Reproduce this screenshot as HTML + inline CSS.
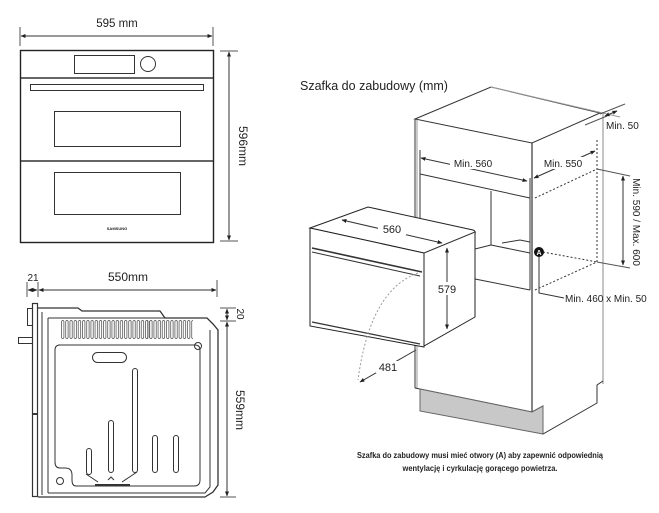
<!DOCTYPE html>
<html><head><meta charset="utf-8"><style>
html,body{margin:0;padding:0;background:#fff;}
svg{display:block;font-family:"Liberation Sans",sans-serif;}
</style></head><body>
<svg width="659" height="513" viewBox="0 0 659 513" xmlns="http://www.w3.org/2000/svg">
<defs>
<marker id="ar" viewBox="0 0 10 10" refX="9" refY="5" markerWidth="5" markerHeight="5" orient="auto-start-reverse"><path d="M0,1 L10,5 L0,9 z" fill="#222"/></marker>
<pattern id="vent" x="61" y="0" width="4.2" height="20" patternUnits="userSpaceOnUse"><rect x="0.5" y="0.5" width="2.4" height="18" rx="1.2" fill="none" stroke="#444" stroke-width="0.7"/></pattern>
</defs>
<g fill="none" stroke="#333" stroke-width="1">
<line x1="20" y1="27" x2="20" y2="46" stroke="#555"/>
<line x1="213" y1="27" x2="213" y2="46" stroke="#555"/>
<line x1="21" y1="36" x2="212" y2="36" marker-start="url(#ar)" marker-end="url(#ar)"/>
<rect x="20.5" y="50.5" width="193" height="192" stroke="#222" stroke-width="1.4"/>
<rect x="74.5" y="55.5" width="60" height="18"/>
<circle cx="148" cy="64" r="7.5"/>
<line x1="21" y1="78" x2="213" y2="78" stroke-width="1.6"/>
<rect x="30.5" y="84.5" width="173" height="6"/>
<rect x="54.5" y="111.5" width="126" height="35"/>
<line x1="21" y1="161" x2="213" y2="161" stroke-width="1.4"/>
<rect x="54.5" y="172.5" width="126" height="42"/>
<line x1="220" y1="51" x2="238" y2="51" stroke="#555"/>
<line x1="220" y1="241" x2="238" y2="241" stroke="#555"/>
<line x1="229" y1="52" x2="229" y2="240" marker-start="url(#ar)" marker-end="url(#ar)"/>

<line x1="27" y1="282" x2="27" y2="297" stroke="#555"/>
<line x1="38" y1="282" x2="38" y2="297" stroke="#555"/>
<line x1="217" y1="280" x2="217" y2="297" stroke="#555"/>
<line x1="28" y1="290" x2="37" y2="290" marker-start="url(#ar)" marker-end="url(#ar)"/>
<line x1="39" y1="290" x2="216" y2="290" marker-start="url(#ar)" marker-end="url(#ar)"/>
<rect x="32.5" y="303.5" width="5" height="193" stroke-width="1.2"/>
<rect x="27.5" y="308.5" width="5" height="17"/>
<rect x="18.5" y="337.5" width="14" height="6"/>
<line x1="32" y1="414" x2="38" y2="414" stroke-width="2"/>
<path d="M38,308 L78,308 L82,311 L160,311 L165,318 L207,318 L213,324 L218,330 L218,485 L213,492 L205,497 L38,497" stroke-width="1.3"/>
<path d="M42,312 L42,495 M48,318 L48,493 M48,318 L205,318 M210,330 L210,487 L205,493 L48,493"/>
<path d="M58,345 L195,345 Q200,345 200,350 L200,480 Q200,486 194,486 L76,486 Q72,486 72,480 L72,475 Q72,468 65,468 L60,468 Q55,468 55,462 L55,350 Q55,345 60,345 Z"/>
<rect x="61" y="319" width="89" height="20" fill="url(#vent)" stroke="none"/>
<rect x="147" y="319" width="46" height="20" fill="url(#vent)" stroke="none"/>
<circle cx="198" cy="346" r="3.5"/>
<circle cx="60" cy="481" r="3.5"/>
<rect x="92.5" y="352.5" width="34" height="10" rx="5"/>
<rect x="86.5" y="448.5" width="5" height="26" rx="2.5"/>
<rect x="108.5" y="420.5" width="5" height="52" rx="2.5"/>
<rect x="132.5" y="368.5" width="5" height="104" rx="2.5"/>
<rect x="152.5" y="435.5" width="5" height="37" rx="2.5"/>
<rect x="173.5" y="435.5" width="5" height="37" rx="2.5"/>
<path d="M86,474 L98,482 M137,472 L122,482 M108,480 L111,477 L114,480"/>
<line x1="95" y1="485" x2="130" y2="485" stroke-width="2"/>
<line x1="220" y1="308" x2="236" y2="308" stroke="#555"/>
<line x1="220" y1="321" x2="236" y2="321" stroke="#555"/>
<line x1="220" y1="497" x2="236" y2="497" stroke="#555"/>
<line x1="227" y1="309" x2="227" y2="320" marker-start="url(#ar)" marker-end="url(#ar)"/>
<line x1="227" y1="322" x2="227" y2="496" marker-start="url(#ar)" marker-end="url(#ar)"/>

<path d="M415,119 L491,87 L600,113 L532,143 Z" stroke-width="1"/>
<line x1="491" y1="87" x2="620" y2="117" stroke="#999"/>
<line x1="415" y1="119" x2="415" y2="228"/>
<line x1="417" y1="120" x2="417" y2="228" stroke="#999"/>
<line x1="415" y1="345" x2="415" y2="388"/>
<line x1="417" y1="345" x2="417" y2="388" stroke="#999"/>
<line x1="532" y1="143" x2="532" y2="412" stroke-width="1.2"/>
<line x1="603" y1="112" x2="603" y2="384" stroke="#aaa" stroke-width="1.4"/>
<line x1="597" y1="140" x2="597" y2="262" stroke-dasharray="2,2"/>
<path d="M415,388 L532,412 L543,406 L543,434 L597,403 L597,385 L603,381" />
<path d="M420,389 L532,412 L543,406 L543,434 L420,411 Z" fill="#c8c8c8" stroke="#666"/>
<line x1="420" y1="150" x2="420" y2="228"/>
<line x1="420" y1="174" x2="530" y2="198"/>
<line x1="530" y1="178" x2="530" y2="290"/>
<line x1="491" y1="191" x2="491" y2="245"/>
<line x1="475" y1="249" x2="491" y2="245"/>
<line x1="491" y1="245" x2="530" y2="253"/>
<path d="M502,243 L520,240 L530,242"/>
<line x1="475" y1="279" x2="530" y2="290"/>
<line x1="421" y1="158" x2="527" y2="181" marker-start="url(#ar)" marker-end="url(#ar)"/>
<line x1="535" y1="198" x2="597" y2="169" stroke-dasharray="2,2"/>
<line x1="535" y1="290" x2="597" y2="262" stroke-dasharray="2,2"/>
<line x1="543" y1="252" x2="597" y2="262" stroke-dasharray="2,2"/>
<line x1="534" y1="178" x2="595" y2="151" marker-start="url(#ar)" marker-end="url(#ar)"/>
<line x1="597" y1="169" x2="630" y2="176" stroke="#555"/>
<line x1="597" y1="262" x2="630" y2="268" stroke="#555"/>
<line x1="623" y1="176" x2="623" y2="265" marker-start="url(#ar)" marker-end="url(#ar)"/>
<line x1="585" y1="125" x2="607" y2="116" stroke="#555"/>
<line x1="600" y1="114" x2="625" y2="104" stroke="#555"/>
<line x1="605" y1="116" x2="617" y2="111" marker-start="url(#ar)" marker-end="url(#ar)"/>
<path d="M539,252 L539,293 L564,298"/>

<path d="M310,228 L368,207 L473,230 Q476,231 475,234 L475,317 L424,346 L424,253 Z" fill="#fff" stroke="#222"/>
<path d="M310,228 L424,253 L424,347 L310,326 Z" fill="#fff" stroke="#222"/>
<line x1="312" y1="248" x2="422" y2="272" stroke-width="1.6"/>
<line x1="312" y1="252" x2="420" y2="276"/>
<line x1="312" y1="322" x2="420" y2="344" stroke-width="1.2"/>
<line x1="424" y1="253" x2="475" y2="232"/>
<line x1="342" y1="220" x2="442" y2="243" marker-start="url(#ar)" marker-end="url(#ar)"/>
<line x1="447" y1="248" x2="447" y2="329" marker-start="url(#ar)" marker-end="url(#ar)"/>
<path d="M418,273 Q370,290 358,380" stroke="#999" stroke-dasharray="2,2"/>
<line x1="360" y1="382" x2="416" y2="350" marker-start="url(#ar)"/>
</g>
<circle cx="539" cy="252" r="5" fill="#111"/>
<text x="539" y="255" font-size="7" font-weight="bold" fill="#fff" text-anchor="middle" font-family="Liberation Sans, sans-serif">A</text>
<g font-size="11" fill="#222" text-anchor="middle">
<text x="117" y="27" font-size="11.5">595 mm</text>
<text x="117" y="230" font-size="4" font-weight="bold">SAMSUNG</text>
<text transform="translate(239,146) rotate(90)" font-size="12">596mm</text>
<text x="33" y="281" font-size="10">21</text>
<text x="128" y="281" font-size="12">550mm</text>
<text transform="translate(237,314) rotate(90)" font-size="10">20</text>
<text transform="translate(236,410) rotate(90)" font-size="12">559mm</text>
<text x="300" y="90" font-size="12.5" text-anchor="start">Szafka do zabudowy (mm)</text>
<rect x="450" y="157" width="45" height="12" fill="#fff"/>
<text x="473" y="167" font-size="10">Min. 560</text>
<rect x="542" y="157" width="42" height="12" fill="#fff"/>
<text x="563" y="167" font-size="10">Min. 550</text>
<text x="606" y="129" font-size="10" text-anchor="start">Min. 50</text>
<text transform="translate(633,222) rotate(90)" font-size="10">Min. 590 / Max. 600</text>
<text x="565" y="302" font-size="10" text-anchor="start">Min. 460 x Min. 50</text>
<rect x="378" y="223" width="28" height="12" fill="#fff"/>
<text x="392" y="233" font-size="11">560</text>
<rect x="436" y="282" width="24" height="13" fill="#fff"/>
<text x="447" y="293" font-size="11">579</text>
<rect x="376" y="361" width="24" height="12" fill="#fff"/>
<text x="388" y="371" font-size="11">481</text>
<text x="480" y="458" font-size="8.5" font-weight="bold" textLength="246" lengthAdjust="spacingAndGlyphs">Szafka do zabudowy musi mieć otwory (A) aby zapewnić odpowiednią</text>
<text x="480" y="471" font-size="8.5" font-weight="bold" textLength="155" lengthAdjust="spacingAndGlyphs">wentylację i cyrkulację gorącego powietrza.</text>
</g>
</svg>
</body></html>
